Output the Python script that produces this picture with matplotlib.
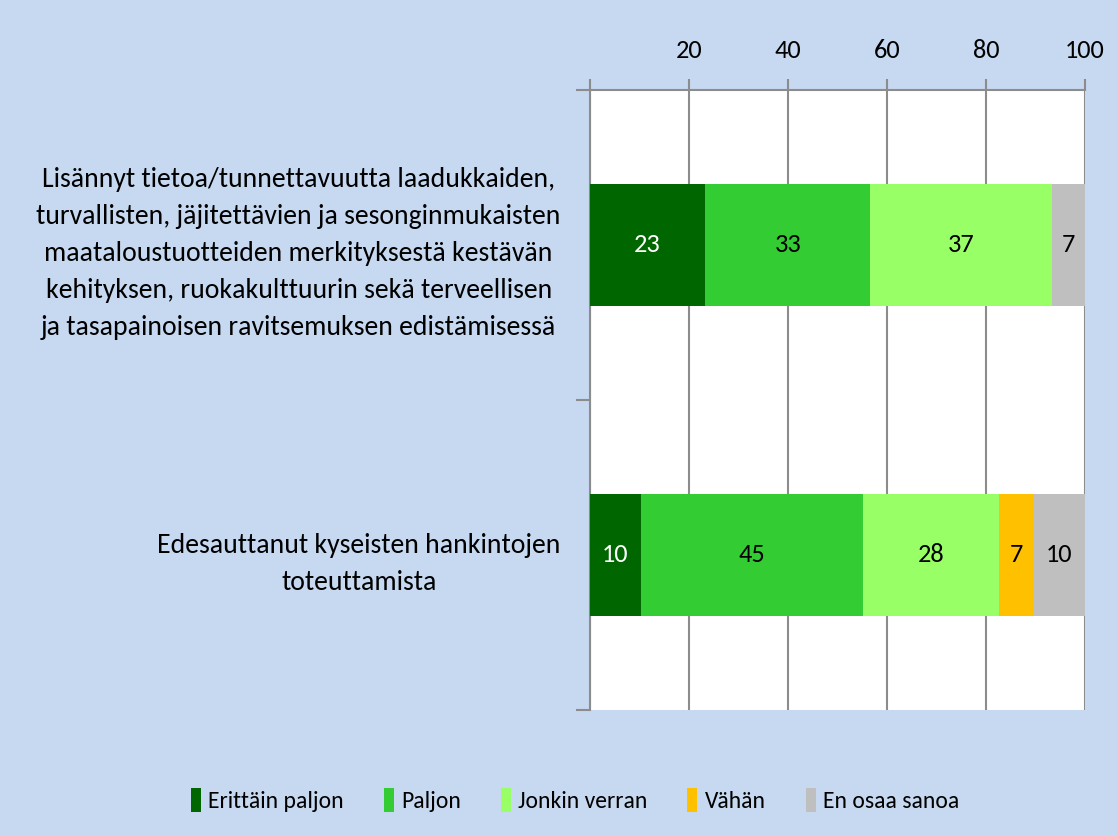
import matplotlib
matplotlib.use("Agg")
import matplotlib.pyplot as plt
from matplotlib import font_manager
import numpy as np

names = {f.name for f in font_manager.fontManager.ttflist}
FONT = "DejaVu Sans"
for cand in ["Carlito", "Liberation Sans Narrow", "Lato"]:
    if cand in names:
        FONT = cand
        break
plt.rcParams['font.family'] = [FONT, 'DejaVu Sans']

categories = [
    "Lisännyt tietoa/tunnettavuutta laadukkaiden,\nturvallisten, jäjitettävien ja sesonginmukaisten\nmaataloustuotteiden merkityksestä kestävän\nkehityksen, ruokakulttuurin sekä terveellisen\nja tasapainoisen ravitsemuksen edistämisessä",
    "Edesauttanut kyseisten hankintojen\ntoteuttamista",
]
series_names = ["Erittäin paljon", "Paljon", "Jonkin verran", "Vähän", "En osaa sanoa"]
erittain_paljon = [23.3, 10.3]
paljon = [33.3, 44.8]
jonkin_verran = [36.7, 27.6]
vahan = [0.0, 6.9]
en_osaa = [6.7, 10.3]
series_values = [erittain_paljon, paljon, jonkin_verran, vahan, en_osaa]
colors = ["#006600", "#33CC33", "#99FF66", "#FFC000", "#BFBFBF"]
text_colors = ["white", "black", "black", "black", "black"]
x_ticks = [0, 20, 40, 60, 80, 100]
x_tick_labels = ["", "20", "40", "60", "80", "100"]

bg = "#C6D9F1"
grid_c = "#8C8C8C"

fig = plt.figure(figsize=(11.17, 8.36), dpi=100, facecolor=bg)
ax = fig.add_axes([590/1117, 1-710/836, (1085-590)/1117, 620/836])
ax.set_facecolor("white")

y = np.arange(len(categories))
left = np.zeros(len(categories))
for name, vals, c, tc in zip(series_names, series_values, colors, text_colors):
    vals = np.array(vals)
    bars = ax.barh(y, vals, left=left, height=0.395, color=c, label=name, zorder=3)
    for b, v in zip(bars, vals):
        if v > 0:
            ax.text(b.get_x() + b.get_width()/2, b.get_y() + b.get_height()/2,
                    f"{v:.0f}", ha="center", va="center", color=tc, fontsize=19, zorder=4)
    left += vals

ax.set_xlim(0, 100)
ax.set_ylim(1.5, -0.5)
ax.xaxis.tick_top()
ax.set_xticks(x_ticks)
ax.set_xticklabels(x_tick_labels, fontsize=19)
ax.tick_params(axis="x", direction="out", length=8, width=1.5, color=grid_c, pad=12)
ax.grid(axis="x", color=grid_c, linewidth=1.5, zorder=1)

ax.set_yticks(y)
ax.set_yticklabels(categories, fontsize=20, multialignment="center", linespacing=1.6)
ax.tick_params(axis="y", length=0, pad=21)
ax.set_yticks([-0.5, 0.5, 1.5], minor=True)
ax.tick_params(axis="y", which="minor", length=10, width=1.5, color=grid_c, direction="out")

for s in ["right", "bottom"]:
    ax.spines[s].set_visible(False)
for s in ["left", "top"]:
    ax.spines[s].set_color(grid_c)
    ax.spines[s].set_linewidth(1.5)

fig.legend(loc="center", bbox_to_anchor=(575/1117, 1-800/836), ncol=5, frameon=False,
           fontsize=17, handlelength=0.42, handleheight=1.15, handletextpad=0.3, columnspacing=1.7)

fig.savefig("out.png", dpi=100, facecolor=bg)
